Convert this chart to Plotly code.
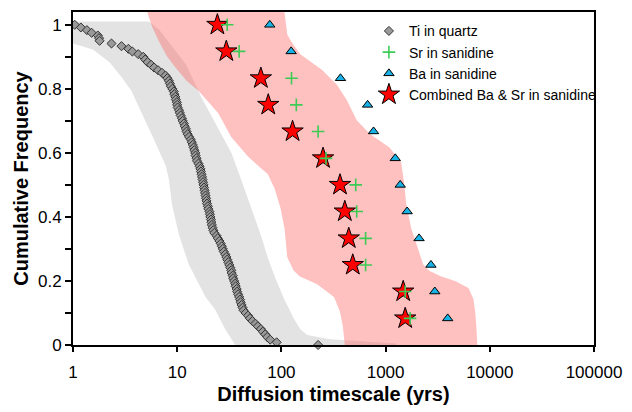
import plotly.graph_objects as go

# ---------------- data ----------------
ti_years = [1.04, 1.19, 1.36, 1.51, 1.73, 1.78, 1.80, 2.34, 2.92, 3.40,
            3.71, 4.23, 4.72, 4.93, 5.20, 5.62, 6.00, 6.54, 7.14, 7.71,
            8.05, 8.32, 8.51, 8.69, 8.98, 9.28, 9.38, 9.59, 9.70, 9.91,
            10.0, 10.1, 10.4, 10.6, 10.8, 11.1, 11.3, 11.6, 11.8, 12.1,
            12.3, 12.6, 13.0, 13.5, 13.8, 14.1, 14.4, 14.6, 14.9, 15.0,
            15.3, 15.5, 16.0, 16.4, 16.7, 16.9, 17.1, 17.3, 17.5, 17.7,
            17.9, 18.1, 18.3, 18.5, 18.7, 18.9, 19.1, 19.3, 19.7, 19.9,
            20.4, 20.6, 20.8, 21.1, 21.3, 21.5, 21.8, 22.2, 22.7, 23.8,
            24.5, 25.4, 26.2, 26.8, 27.4, 28.0, 28.9, 29.6, 30.2, 30.9,
            31.6, 32.3, 33.0, 33.3, 34.1, 34.4, 35.2, 36.0, 36.4, 37.2,
            37.6, 38.4, 39.3, 40.1, 40.6, 41.5, 42.4, 43.3, 45.3, 47.8,
            49.9, 52.7, 56.3, 59.4, 63.5, 66.3, 70.0, 73.1, 78.1, 90.0,
            225]
# cumulative frequency (fraction of samples with timescale >= value)
n_ti = len(ti_years)
ti_freq = [(n_ti - 1 - i) / (n_ti - 1) for i in range(n_ti)]

san_freq = [1.0, 0.917, 0.833, 0.75, 0.667, 0.583, 0.5, 0.417, 0.333, 0.25, 0.167, 0.083]
sr_years = [30.2, 39.3, 125, 139, 225, 268, 517, 528, 643, 643, 1542, 1718]
ba_years = [77.3, 124, 369, 672, 766, 1238, 1381, 1610, 2094, 2723, 2966, 3944]
comb_years = [24.3, 29.6, 63.5, 74.8, 128, 251, 365, 406, 443, 484, 1475, 1542]

# uncertainty envelopes (outline of shaded regions)
grey_env_x = [1, 5.38, 6.69, 7.79, 9.70, 12.1, 14.4, 17.1, 19.9, 23.2, 27.7, 33.0, 41.0,
              47.8, 55.7, 64.9, 73.9, 88.1, 107, 133, 152, 177, 293, 818, 1265, 1265,
              36.0, 28.9, 23.2, 18.7, 15.0, 12.9, 10.4, 8.89, 8.32, 7.79, 6.00, 4.61,
              3.63, 2.92, 2.24, 1.55, 1.04, 1]
grey_env_y = [1.01, 1.01, 0.985, 0.957, 0.917, 0.877, 0.825, 0.773, 0.733, 0.693, 0.647,
              0.601, 0.518, 0.457, 0.396, 0.334, 0.273, 0.206, 0.141, 0.080, 0.049, 0.031,
              0.018, 0.009, 0.005, 0, 0, 0.049, 0.110, 0.150, 0.212, 0.252, 0.344, 0.440,
              0.518, 0.558, 0.641, 0.724, 0.794, 0.837, 0.883, 0.923, 0.942, 0.942]

pink_env_x = [5.15, 5.74, 6.69, 7.97, 9.70, 12.3, 16.0, 19.9, 24.8, 33.0, 47.8, 62.1, 73.9,
              86.2, 98.3, 107, 114, 131, 149, 220, 320, 365, 389, 406,
              7590, 7430, 7270, 6960, 6240, 4700, 3380, 2600, 2290, 1960, 1760, 1575,
              1510, 1410, 1090, 702, 528, 425, 341, 246, 177, 152, 128, 114, 110, 107]
pink_env_y = [1.04, 0.994, 0.948, 0.902, 0.865, 0.825, 0.794, 0.758, 0.724, 0.650, 0.589,
              0.555, 0.534, 0.488, 0.426, 0.365, 0.273, 0.233, 0.215, 0.190, 0.150, 0.104,
              0.058, 0.0,
              0.0, 0.058, 0.098, 0.144, 0.178, 0.199, 0.215, 0.233, 0.252, 0.319, 0.365,
              0.442, 0.503, 0.571, 0.617, 0.660, 0.702, 0.764, 0.813, 0.859, 0.893, 0.908,
              0.942, 0.969, 1.009, 1.04]

x_tick_vals = [1, 10, 100, 1000, 10000, 100000]
x_tick_text = ["1", "10", "100", "1000", "10000", "100000"]
y_tick_vals = [0, 0.2, 0.4, 0.6, 0.8, 1.0]
y_tick_text = ["0", "0.2", "0.4", "0.6", "0.8", "1"]
y_minor_vals = [0.1, 0.3, 0.5, 0.7, 0.9]

# ---------------- figure ----------------
fig = go.Figure()

fig.add_trace(go.Scatter(x=grey_env_x, y=grey_env_y, mode="lines", fill="toself",
                         fillcolor="#e3e3e3", line=dict(width=0), showlegend=False,
                         hoverinfo="skip"))
fig.add_trace(go.Scatter(x=pink_env_x, y=pink_env_y, mode="lines", fill="toself",
                         fillcolor="rgba(255,93,93,0.39)", line=dict(width=0),
                         showlegend=False, hoverinfo="skip"))

fig.add_trace(go.Scatter(x=ti_years, y=ti_freq, mode="markers", name="Ti in quartz",
                         legendrank=1, cliponaxis=False,
                         marker=dict(symbol="diamond", size=7, color="#9a9a9a",
                                     line=dict(color="#333333", width=1))))
fig.add_trace(go.Scatter(x=ba_years, y=san_freq, mode="markers", name="Ba in sanidine",
                         legendrank=3,
                         marker=dict(symbol="triangle-up", size=9, color="#19b2e6",
                                     line=dict(color="black", width=1))))
fig.add_trace(go.Scatter(x=comb_years, y=san_freq, mode="markers",
                         name="Combined Ba & Sr in sanidine", legendrank=4,
                         marker=dict(symbol="star", size=16, color="#ff0000",
                                     line=dict(color="black", width=1))))
fig.add_trace(go.Scatter(x=sr_years, y=san_freq, mode="markers", name="Sr in sanidine",
                         legendrank=2,
                         marker=dict(symbol="cross-thin", size=9, color="#3ccc55",
                                     line=dict(color="#3ccc55", width=1.6))))

fig.update_layout(
    width=632, height=412,
    margin=dict(l=73, r=32, t=10, b=63),
    plot_bgcolor="white", paper_bgcolor="white",
    font=dict(family="Liberation Sans, Arial, sans-serif", color="black"),
    legend=dict(x=0.568, y=0.99, xanchor="left", yanchor="top",
                bgcolor="rgba(0,0,0,0)", font=dict(size=14), itemwidth=30,
                tracegroupgap=0),
    xaxis=dict(type="log", range=[0, 5], tickvals=x_tick_vals, ticktext=x_tick_text,
               ticks="outside", ticklen=5, tickwidth=1.5, tickcolor="black",
               ticklabelstandoff=6,
               showline=True, linecolor="black", linewidth=2, mirror=True,
               showgrid=False, zeroline=False, tickfont=dict(size=17),
               title=dict(text="<b>Diffusion timescale (yrs)</b>", font=dict(size=20),
                          standoff=6)),
    yaxis=dict(range=[0, 1.04], tickvals=y_tick_vals, ticktext=y_tick_text,
               ticks="outside", ticklen=6, tickwidth=1.5, tickcolor="black",
               minor=dict(tickvals=y_minor_vals, ticks="outside", ticklen=6,
                          tickwidth=1.5, tickcolor="black"),
               showline=True, linecolor="black", linewidth=2, mirror=True,
               showgrid=False, zeroline=False, tickfont=dict(size=17),
               title=dict(text="<b>Cumulative Frequency</b>", font=dict(size=20),
                          standoff=4)),
)

fig.write_html("out.html")
